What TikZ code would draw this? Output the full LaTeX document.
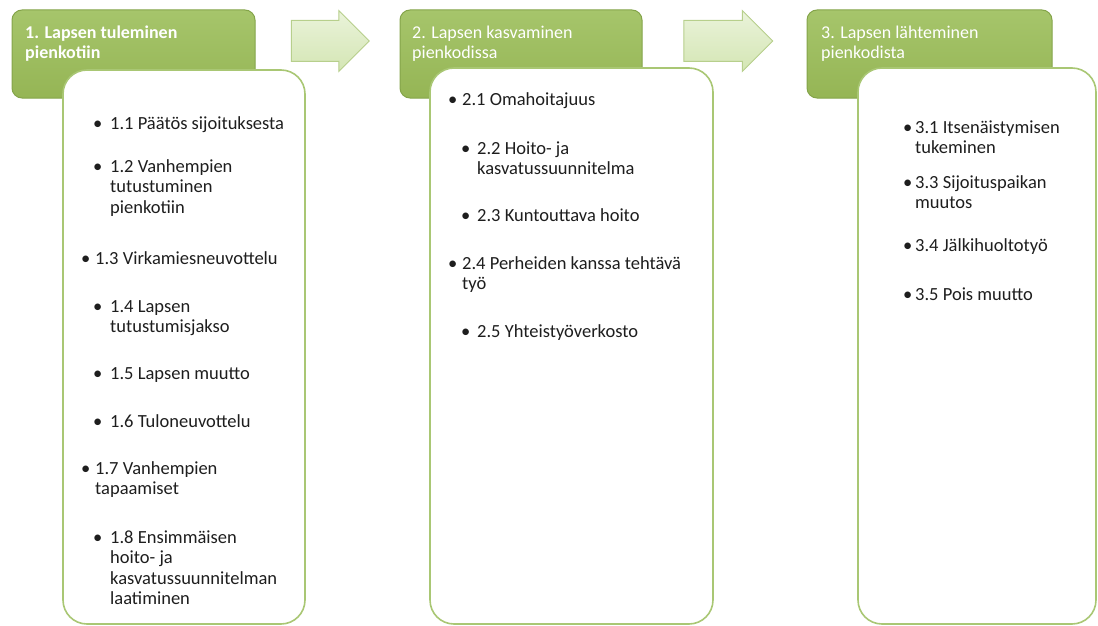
\documentclass[tikz,border=0pt]{standalone}
\usepackage{fontspec}
\setmainfont{Carlito}
\usetikzlibrary{shapes.arrows}
\definecolor{hdrtop}{HTML}{A6C56B}
\definecolor{hdrbot}{HTML}{95B555}
\definecolor{hdrline}{HTML}{84A44A}
\definecolor{boxline}{HTML}{A9C774}
\definecolor{arrtop}{HTML}{EAF3DA}
\definecolor{arrbot}{HTML}{D4E6B4}
\definecolor{arrline}{HTML}{B7CF8C}
\definecolor{txt}{HTML}{1E1E1E}
\newcommand\itm[1]{\begin{tabular}[t]{@{}l@{}}#1\end{tabular}}
\newcommand\bul[1]{\makebox[#1pt][l]{•}}
\begin{document}
\begin{tikzpicture}[x=1pt,y=-1pt,
  hdrbox/.style={draw=hdrline, line width=1pt, rounded corners=10pt,
    top color=hdrtop, bottom color=hdrbot, inner sep=0pt},
  listbox/.style={draw=boxline, line width=1.6pt, rounded corners=24pt,
    fill=white, inner sep=0pt},
  hdrtext/.style={anchor=base west, inner sep=0pt, text=white,
    font=\fontsize{18}{19.5}\selectfont},
  item/.style={anchor=base west, inner sep=0pt, text=txt,
    font=\fontsize{18.5}{20.5}\selectfont},
  blockarrow/.style={single arrow, draw=arrline, line width=1pt,
    top color=arrtop, bottom color=arrbot, inner xsep=0pt, inner ysep=20pt,
    single arrow head extend=10pt}
]
\useasboundingbox (0,0) rectangle (1098,626);

% panel boxes
\node[hdrbox, minimum width=243pt, minimum height=88pt] (h1) at (133.5,54) {};
\node[listbox, minimum width=242pt, minimum height=554pt] (c1) at (184,347) {};
\node[hdrbox, minimum width=242pt, minimum height=88pt] (h2) at (521,54) {};
\node[listbox, minimum width=283pt, minimum height=556pt] (c2) at (571.5,346) {};
\node[hdrbox, minimum width=245pt, minimum height=88pt] (h3) at (929.5,54) {};
\node[listbox, minimum width=238pt, minimum height=556pt] (c3) at (977,346) {};

% arrows
\node[blockarrow, minimum height=78pt] (a1) at (320,41) {};
\node[blockarrow, minimum height=89pt] (a2) at (718,41) {};

% header texts
\node[hdrtext] (ht1) at (25,39) {\itm{\bfseries 1. Lapsen tuleminen\\\bfseries pienkotiin}};
\node[hdrtext] (ht2) at (412,39) {\itm{2. Lapsen kasvaminen\\pienkodissa}};
\node[hdrtext] (ht3) at (821,39) {\itm{3. Lapsen lähteminen\\pienkodista}};

% panel 1 items
\node[item] (i11) at (93,129) {\bul{17}\itm{1.1 Päätös sijoituksesta}};
\node[item] (i12) at (93,172) {\bul{17}\itm{1.2 Vanhempien\\tutustuminen\\pienkotiin}};
\node[item] (i13) at (81,264) {\bul{14}\itm{1.3 Virkamiesneuvottelu}};
\node[item] (i14) at (93,312) {\bul{17}\itm{1.4 Lapsen\\tutustumisjakso}};
\node[item] (i15) at (93,379) {\bul{17}\itm{1.5 Lapsen muutto}};
\node[item] (i16) at (93,427) {\bul{17}\itm{1.6 Tuloneuvottelu}};
\node[item] (i17) at (81,474) {\bul{14}\itm{1.7 Vanhempien\\tapaamiset}};
\node[item] (i18) at (93,543) {\bul{17}\itm{1.8 Ensimmäisen\\hoito- ja\\kasvatussuunnitelman\\laatiminen}};

% panel 2 items
\node[item] (i21) at (448,106) {\bul{14}\itm{2.1 Omahoitajuus}};
\node[item] (i22) at (461,154) {\bul{16}\itm{2.2 Hoito- ja\\kasvatussuunnitelma}};
\node[item] (i23) at (461,221) {\bul{16}\itm{2.3 Kuntouttava hoito}};
\node[item] (i24) at (448,269) {\bul{14}\itm{2.4 Perheiden kanssa tehtävä\\työ}};
\node[item] (i25) at (461,337) {\bul{16}\itm{2.5 Yhteistyöverkosto}};

% panel 3 items
\node[item] (i31) at (903,133) {\bul{12}\itm{3.1 Itsenäistymisen\\tukeminen}};
\node[item] (i33) at (903,188) {\bul{12}\itm{3.3 Sijoituspaikan\\muutos}};
\node[item] (i34) at (903,251) {\bul{12}\itm{3.4 Jälkihuoltotyö}};
\node[item] (i35) at (903,300) {\bul{12}\itm{3.5 Pois muutto}};
\end{tikzpicture}
\end{document}
